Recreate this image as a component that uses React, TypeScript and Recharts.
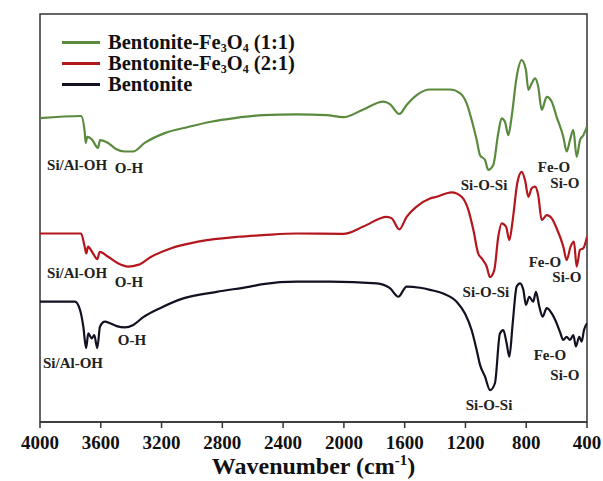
import React from 'react';
import { LineChart, Line, XAxis, YAxis, ReferenceArea, ReferenceDot } from 'recharts';

const SERIF = '"Liberation Serif", "Times New Roman", serif';

const wavenumberTicks = [4000, 3600, 3200, 2800, 2400, 2000, 1600, 1200, 800, 400];

// [wavenumber cm-1, %T (offset per trace)]
const fe3o4OneToOne: [number, number][] = [
  [4000, 74.5], [3730, 75.0], [3706, 71.2], [3699, 68.4], [3689, 69.9], [3662, 69.4],
  [3618, 67.2], [3605, 69.1], [3552, 68.4], [3500, 66.9], [3443, 66.3], [3388, 66.3],
  [3311, 68.4], [3179, 70.8], [3026, 72.3], [2875, 73.6], [2719, 74.5], [2532, 75.2],
  [2311, 75.4], [2113, 75.2], [2004, 74.7], [1872, 76.6], [1741, 78.5], [1697, 77.9],
  [1635, 75.5], [1587, 77.7], [1521, 80.1], [1433, 81.5], [1302, 81.5], [1236, 80.6],
  [1192, 78.1], [1159, 74.0], [1126, 69.1], [1104, 65.4], [1071, 64.2], [1050, 61.8],
  [1017, 63.0], [984, 70.8], [962, 74.4], [940, 73.6], [918, 70.3], [896, 74.8],
  [863, 84.6], [830, 88.7], [802, 86.3], [786, 81.4], [764, 83.0], [742, 84.2],
  [721, 82.2], [698, 76.5], [665, 79.7], [632, 78.5], [600, 74.8], [556, 69.9],
  [534, 66.3], [512, 69.1], [490, 71.6], [468, 65.0], [446, 69.1], [424, 70.3], [400, 72.4],
];

const fe3o4TwoToOne: [number, number][] = [
  [4000, 46.2], [3730, 46.2], [3706, 43.0], [3695, 41.3], [3684, 43.0], [3651, 41.3],
  [3623, 39.9], [3607, 41.7], [3552, 40.5], [3487, 38.9], [3421, 38.1], [3355, 38.5],
  [3268, 40.5], [3136, 42.6], [2960, 44.2], [2697, 45.4], [2532, 45.8], [2311, 46.2],
  [2004, 46.1], [1872, 47.9], [1718, 50.3], [1685, 49.9], [1635, 47.2], [1587, 50.3],
  [1521, 52.8], [1433, 54.8], [1389, 55.2], [1291, 56.3], [1225, 55.2], [1181, 52.0],
  [1148, 47.1], [1116, 41.3], [1093, 40.1], [1060, 38.1], [1039, 35.5], [1010, 37.3],
  [984, 45.4], [962, 48.7], [933, 47.9], [911, 44.6], [889, 49.5], [859, 58.5],
  [830, 61.3], [808, 59.3], [786, 55.2], [764, 57.3], [742, 57.7], [721, 55.6],
  [698, 49.5], [665, 50.7], [632, 49.9], [600, 47.5], [556, 43.0], [534, 39.7],
  [508, 43.0], [486, 44.2], [468, 38.1], [446, 42.2], [424, 42.6], [400, 45.4],
];

const bentonite: [number, number][] = [
  [4000, 29.5], [3770, 29.5], [3737, 27.5], [3715, 23.4], [3697, 18.1], [3682, 21.7],
  [3660, 20.5], [3643, 21.3], [3623, 18.1], [3605, 23.4], [3572, 24.6], [3539, 24.2],
  [3495, 23.5], [3441, 23.2], [3386, 23.8], [3320, 25.7], [3210, 27.9], [3057, 30.3],
  [2837, 31.9], [2618, 33.2], [2532, 33.8], [2311, 34.4], [2092, 34.4], [1784, 34.0],
  [1697, 32.8], [1642, 30.7], [1587, 33.2], [1499, 32.9], [1433, 32.4], [1346, 31.5],
  [1258, 29.5], [1203, 26.6], [1159, 22.5], [1126, 17.6], [1104, 14.0], [1071, 11.1],
  [1038, 7.8], [1006, 9.5], [973, 21.7], [951, 22.5], [929, 19.3], [911, 16.0],
  [889, 24.2], [863, 33.2], [841, 34.0], [819, 32.4], [802, 28.7], [780, 30.7],
  [754, 29.5], [736, 31.9], [714, 28.3], [692, 25.8], [665, 27.9], [632, 26.6],
  [600, 24.2], [578, 22.1], [556, 20.1], [534, 20.9], [512, 20.1], [490, 21.3],
  [473, 18.5], [451, 20.9], [435, 19.7], [420, 22.5], [400, 24.2],
];

// band assignments: [text, wavenumber, %T]
const bandLabels: [string, number, number][] = [
  ['Si/Al-OH', 3756, 63.0], ['O-H', 3414, 62.3], ['Si-O-Si', 1078, 58.1], ['Fe-O', 617, 62.5], ['Si-O', 545, 58.6],
  ['Si/Al-OH', 3756, 36.5], ['O-H', 3414, 34.3], ['Si-O-Si', 1065, 31.9], ['Fe-O', 677, 39.2], ['Si-O', 532, 35.5],
  ['Si/Al-OH', 3783, 14.5], ['O-H', 3395, 20.1], ['Si-O-Si', 1045, 4.2], ['Fe-O', 644, 16.4], ['Si-O', 545, 11.5],
];

const toPoints = (rows: [number, number][]) => rows.map(([wn, t]) => ({ wn, t }));

const series = [
  { name: 'Bentonite-Fe3O4 (1:1)', ratio: '(1:1)', color: '#5a8a3e', rows: fe3o4OneToOne },
  { name: 'Bentonite-Fe3O4 (2:1)', ratio: '(2:1)', color: '#b3161c', rows: fe3o4TwoToOne },
  { name: 'Bentonite', ratio: '', color: '#111122', rows: bentonite },
];

function XTitle(props: any) {
  const { viewBox } = props;
  const cx = viewBox.x + viewBox.width / 2;
  return (
    <text x={cx} y={viewBox.y + viewBox.height + 2} textAnchor="middle" fill="#111"
      fontFamily={SERIF} fontWeight={700} fontSize={24}>
      Wavenumber (cm<tspan fontSize={15} dy={-9}>-1</tspan><tspan dy={9}>)</tspan>
    </text>
  );
}

function YTitle(props: any) {
  const { viewBox } = props;
  const x = viewBox.x - 15;
  const y = viewBox.y + viewBox.height / 2;
  return (
    <text x={x} y={y} transform={`rotate(-90 ${x} ${y})`} textAnchor="middle"
      dominantBaseline="central" fill="#111" fontFamily={SERIF} fontWeight={700} fontSize={24}>
      % T
    </text>
  );
}

function LegendBox() {
  const sub = { fontSize: 12, lineHeight: '8px', position: 'relative' as const, top: 3, verticalAlign: 'baseline' };
  return (
    <div style={{ position: 'absolute', left: 62, top: 32, fontFamily: SERIF, fontWeight: 700, fontSize: 20.5, lineHeight: '17px', color: '#111' }}>
      {series.map((s) => (
        <div key={s.name} style={{ display: 'flex', alignItems: 'center', height: 21, whiteSpace: 'nowrap' }}>
          <span style={{ width: 38, height: 2.5, background: s.color, marginRight: 8, flexShrink: 0 }} />
          {s.ratio ? (
            <span>Bentonite-Fe<span style={sub}>3</span>O<span style={sub}>4</span> {s.ratio}</span>
          ) : (
            <span>{s.name}</span>
          )}
        </div>
      ))}
    </div>
  );
}

export default function App() {
  return (
    <div style={{ position: 'absolute', left: 0, top: 0, width: 603, height: 481, background: '#fff' }}>
      <LineChart width={603} height={481} margin={{ top: 14, right: 16, left: 40, bottom: 9 }}>
        <XAxis
          type="number"
          dataKey="wn"
          domain={[400, 4000]}
          reversed
          ticks={wavenumberTicks}
          interval={0}
          allowDataOverflow
          height={50}
          tickSize={6}
          tickMargin={8}
          tick={{ fill: '#111', fontSize: 19, fontWeight: 700, fontFamily: SERIF }}
          axisLine={{ stroke: '#333', strokeWidth: 1.5 }}
          tickLine={{ stroke: '#333', strokeWidth: 1.5 }}
          label={<XTitle />}
        />
        <YAxis
          type="number"
          domain={[0, 100]}
          width={0}
          tick={false}
          tickLine={false}
          axisLine={false}
          label={<YTitle />}
        />
        <ReferenceArea x1={4000} x2={400} y1={0} y2={100} fill="none" stroke="#333" strokeWidth={1.5} />
        {series.map((s) => (
          <Line
            key={s.name}
            data={toPoints(s.rows)}
            dataKey="t"
            name={s.name}
            type="monotone"
            stroke={s.color}
            strokeWidth={2.2}
            dot={false}
            isAnimationActive={false}
          />
        ))}
        {bandLabels.map(([text, wn, t], i) => (
          <ReferenceDot
            key={i}
            x={wn}
            y={t}
            r={0}
            fill="none"
            stroke="none"
            label={{ value: text, position: 'center', fill: '#222', fontSize: 15, fontWeight: 700, fontFamily: SERIF }}
          />
        ))}
      </LineChart>
      <LegendBox />
    </div>
  );
}
